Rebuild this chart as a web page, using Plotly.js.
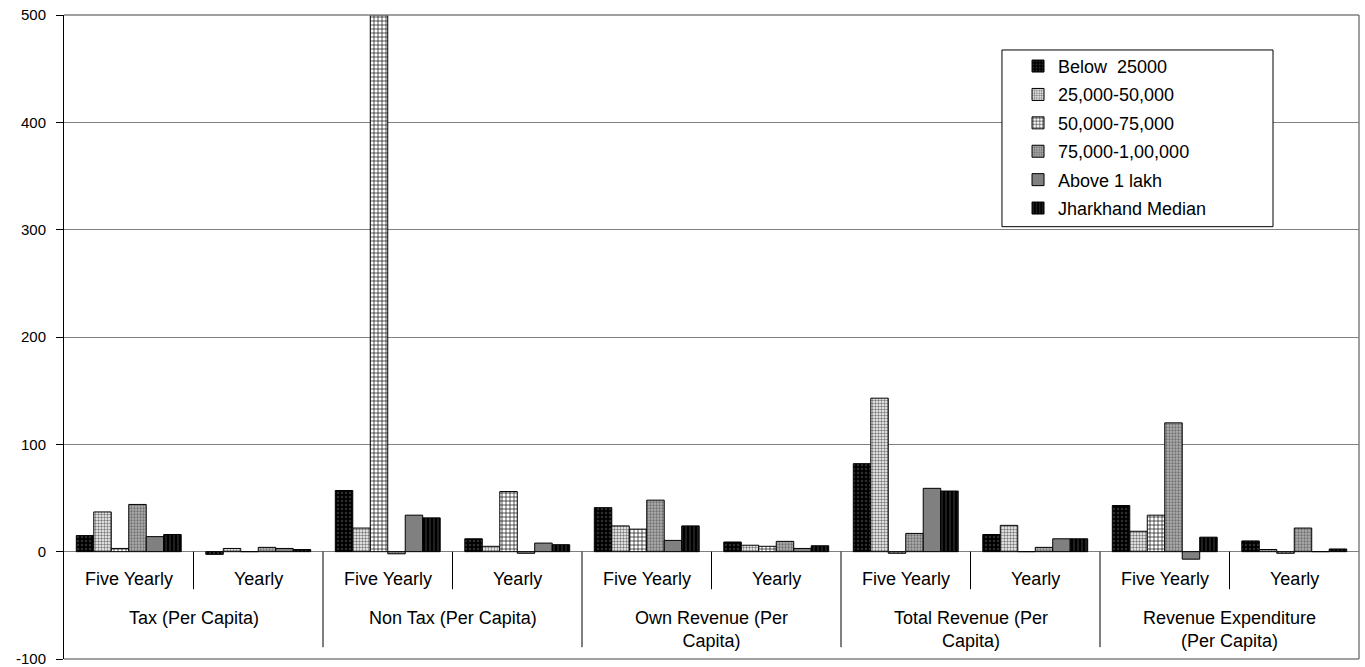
<!DOCTYPE html>
<html>
<head>
<meta charset="utf-8">
<script src="https://cdn.plot.ly/plotly-3.0.1.min.js"></script>
<style>
  html, body { margin: 0; padding: 0; background: #fff; }
  #chart { width: 1365px; height: 667px; }
</style>
</head>
<body>
<div id="chart"></div>
<script>
// ---- Data ----
const groups = ['Tax (Per Capita)', 'Non Tax (Per Capita)', 'Own Revenue (Per<br>Capita)', 'Total Revenue (Per<br>Capita)', 'Revenue Expenditure<br>(Per Capita)'];
const periods = ['Five Yearly', 'Yearly'];
const seriesNames = ['Below\u00a0 25000', '25,000-50,000', '50,000-75,000', '75,000-1,00,000', 'Above 1 lakh', 'Jharkhand Median'];

const below25000 = [15, -2.5, 57, 12, 41, 9, 82, 16, 43, 10];
const from25to50 = [37, 3, 22, 5, 24, 6, 143, 24.5, 19, 2];
const from50to75 = [3, 0, 500, 56, 21, 5, -1.5, 0, 34, -1.5];
const from75to100 = [44, 4, -2, -1.5, 48, 9.6, 17, 4, 120, 22];
const above1lakh = [14, 3, 34, 8, 10.5, 3, 59, 12, -7, 0];
const jharkhandMedian = [16, 2, 31.5, 6.5, 24, 5.5, 56.5, 12, 13.5, 2.5];

const yTicks = [-100, 0, 100, 200, 300, 400, 500];

// ---- Build ----
const xKeys = [];
const innerLabels = [];
groups.forEach(g => periods.forEach(p => { xKeys.push(g.replace('<br>', ' ') + ' | ' + p); innerLabels.push(p); }));

const seriesValues = [below25000, from25to50, from50to75, from75to100, above1lakh, jharkhandMedian];
const patterns = [
  {shape: '.', bgcolor: '#000000', fgcolor: '#2e2e2e', size: 4, solidity: 0.3, fillmode: 'replace'},
  {shape: '.', bgcolor: '#ffffff', fgcolor: '#7a7a7a', size: 3, solidity: 0.5, fillmode: 'replace'},
  {shape: '+', bgcolor: '#ffffff', fgcolor: '#000000', size: 4, solidity: 0.3, fillmode: 'replace'},
  {shape: '.', bgcolor: '#b0b0b0', fgcolor: '#707070', size: 3, solidity: 0.45, fillmode: 'replace'},
  {shape: '', bgcolor: '#808080', fgcolor: '#808080', size: 4, solidity: 0.3, fillmode: 'replace'},
  {shape: '|', bgcolor: '#000000', fgcolor: '#333333', size: 4, solidity: 0.3, fillmode: 'replace'}
];
const colors = ['#111111', '#c0c0c0', '#aaaaaa', '#999999', '#808080', '#1a1a1a'];

const traces = seriesValues.map((vals, i) => ({
  type: 'bar',
  name: seriesNames[i],
  legendgroup: 'g' + i,
  x: xKeys,
  y: vals,
  marker: {
    color: colors[i],
    line: {color: '#000000', width: 1},
    pattern: patterns[i].shape ? patterns[i] : undefined
  },
  hoverinfo: 'none'
}));

const font = 'Liberation Sans, Arial, sans-serif';
const annotations = [];
innerLabels.forEach((t, k) => annotations.push({
  xref: 'x', yref: 'y', x: k, y: -25.8, text: t, showarrow: false,
  xanchor: 'center', yanchor: 'middle', font: {family: font, size: 18, color: '#000'}
}));
groups.forEach((g, gi) => annotations.push({
  xref: 'x', yref: 'y', x: gi * 2 + 0.5, y: -51, text: g, showarrow: false,
  xanchor: 'center', yanchor: 'top', align: 'center',
  font: {family: font, size: 18, color: '#000'}
}));

const shapes = [];
groups.forEach((g, gi) => {
  shapes.push({type: 'line', xref: 'x', yref: 'y', x0: gi * 2 + 0.5, x1: gi * 2 + 0.5, y0: 0, y1: -35, line: {color: '#000', width: 1}});
  if (gi > 0) shapes.push({type: 'line', xref: 'x', yref: 'y', x0: gi * 2 - 0.5, x1: gi * 2 - 0.5, y0: 0, y1: -89, line: {color: '#000', width: 1}});
});
// plot area border (top, right, bottom)
shapes.push({type: 'line', xref: 'paper', yref: 'paper', x0: 1, x1: 1, y0: 0, y1: 1, line: {color: '#808080', width: 1.5}});
shapes.push({type: 'line', xref: 'paper', yref: 'paper', x0: 0, x1: 1, y0: 1, y1: 1, line: {color: '#808080', width: 1.5}});
shapes.push({type: 'line', xref: 'paper', yref: 'paper', x0: 0, x1: 1, y0: 0, y1: 0, line: {color: '#808080', width: 1.5}});
// legend frame
shapes.push({type: 'rect', xref: 'paper', yref: 'paper', x0: 0.7243, x1: 0.9336, y0: 0.6713, y1: 0.9457, line: {color: '#000', width: 1}, fillcolor: 'rgba(255,255,255,1)', layer: 'above'});

const layout = {
  width: 1365, height: 667,
  margin: {l: 64, r: 6, t: 15, b: 8},
  paper_bgcolor: '#fff', plot_bgcolor: '#fff',
  barmode: 'group', bargap: 0.19, bargroupgap: 0,
  showlegend: true,
  legend: {
    x: 0.7367, y: 0.949, xanchor: 'left', yanchor: 'top',
    bgcolor: 'rgba(0,0,0,0)', borderwidth: 0,
    traceorder: 'grouped', tracegroupgap: 2,
    font: {family: font, size: 18, color: '#000'}
  },
  xaxis: {
    type: 'category', showticklabels: false, ticks: '', showgrid: false,
    zeroline: false, showline: false, range: [-0.5, 9.5], fixedrange: true
  },
  yaxis: {
    range: [-100, 500], tickvals: yTicks, ticktext: yTicks.map(String),
    showline: true, linecolor: '#000', linewidth: 1,
    ticks: 'outside', ticklen: 7, tickcolor: '#000',
    ticklabelstandoff: 7, ticklabeloverflow: 'allow',
    showgrid: true, gridcolor: '#808080', gridwidth: 1,
    zeroline: true, zerolinecolor: '#808080', zerolinewidth: 1,
    tickfont: {family: font, size: 15, color: '#000'},
    fixedrange: true
  },
  annotations: annotations,
  shapes: shapes
};

Plotly.newPlot('chart', traces, layout, {displayModeBar: false, staticPlot: true});
</script>
</body>
</html>
